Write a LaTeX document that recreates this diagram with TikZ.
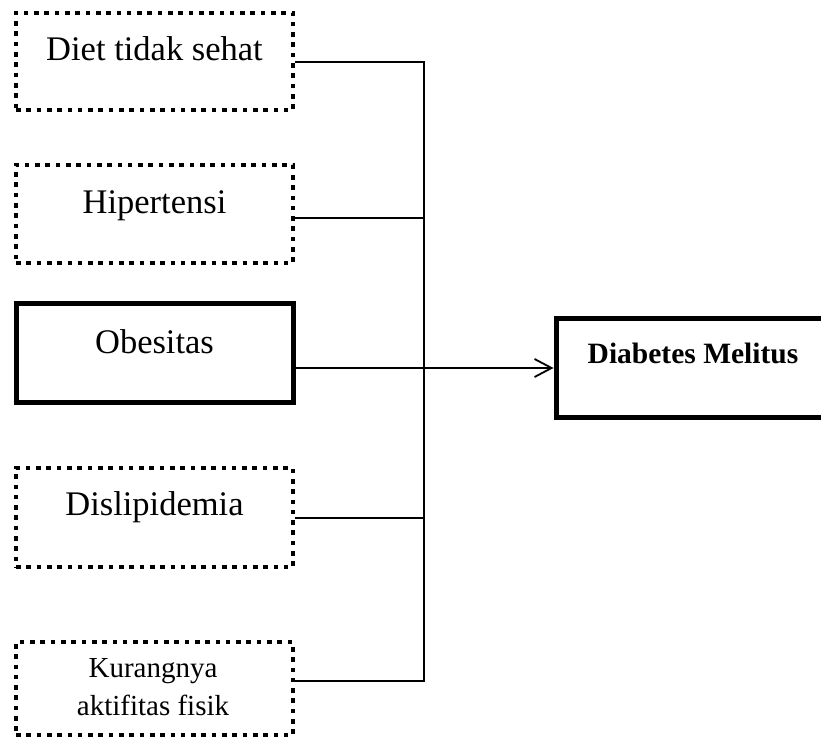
\documentclass[tikz,border=0pt]{standalone}
\usepackage{fontspec}
\setmainfont{Liberation Serif}
\usetikzlibrary{arrows.meta}
\tikzset{
  dotbox/.style={draw, rectangle, line width=4.5pt, dash pattern=on 4.6pt off 5.7pt, inner sep=0pt, minimum width=277pt},
  solidbox/.style={draw, rectangle, line width=5pt, inner sep=0pt},
  lbl/.style={anchor=base, inner sep=0pt, font=\fontsize{34.5}{40}\selectfont},
  lblsmall/.style={anchor=base, inner sep=0pt, font=\fontsize{29}{35}\selectfont},
  lblbold/.style={anchor=base, inner sep=0pt, font=\fontsize{29.5}{35}\selectfont\bfseries},
  conn/.style={line width=1.8pt},
}
\begin{document}
\begin{tikzpicture}[x=1pt,y=-1pt]
\clip (0,0) rectangle (821,738);
\fill[white] (0,0) rectangle (821,738);
% boxes
\node[dotbox, minimum height=97pt] (d1) at (154.5,61.5) {};
\node[dotbox, minimum height=98pt] (d2) at (154.5,214) {};
\node[solidbox, minimum width=277pt, minimum height=99pt] (d3) at (154.5,352.5) {};
\node[dotbox, minimum height=99pt] (d4) at (154.5,517.5) {};
\node[dotbox, minimum height=93pt] (d5) at (154.5,688.5) {};
\node[solidbox, minimum width=274pt, minimum height=99pt] (dm) at (693,367.5) {};
% labels
\node[lbl] (t1) at (154.5,60.5) {Diet tidak sehat};
\node[lbl] (t2) at (154.5,213) {Hipertensi};
\node[lbl] (t3) at (154.5,353) {Obesitas};
\node[lbl] (t4) at (154.5,515) {Dislipidemia};
\node[lblsmall] (t5a) at (153,677.5) {Kurangnya};
\node[lblsmall] (t5b) at (153,715.5) {aktifitas fisik};
\node[lblbold] (tm) at (693,363.5) {Diabetes Melitus};
% bus coordinates
\coordinate (c1) at (424,62);
\coordinate (c2) at (424,218);
\coordinate (c3) at (424,368);
\coordinate (c4) at (424,518);
\coordinate (c5) at (424,681);
% connectors
\draw[conn] (d1.east |- c1) -- (c1);
\draw[conn] (d2.east |- c2) -- (c2);
\draw[conn] (d3.east |- c3) -- (c3);
\draw[conn] (d4.east |- c4) -- (c4);
\draw[conn] (d5.east |- c5) -- (c5);
\draw[conn, line cap=rect] (c1) -- (c5);
\draw[conn, -{Straight Barb[length=17pt, width=18pt, line width=1.8pt]}] (c3) -- (dm.west |- c3);
\end{tikzpicture}
\end{document}
